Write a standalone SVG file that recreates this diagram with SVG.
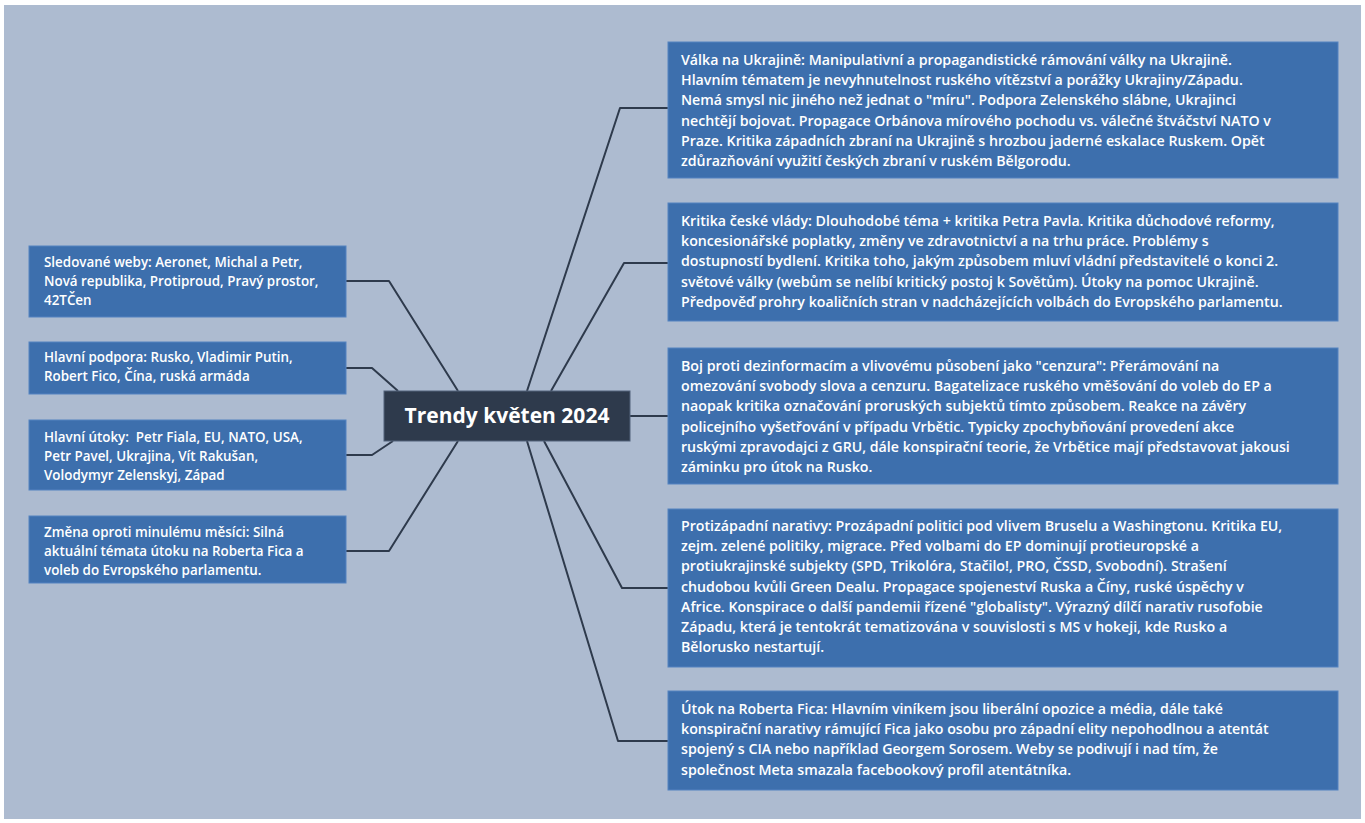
<svg xmlns="http://www.w3.org/2000/svg" width="1365" height="823" viewBox="0 0 1365 823">
<style>
.bg{fill:#adbbd0}
.box{fill:#3d6fad;stroke:#5583c0;stroke-width:1}
.t{font-family:"Open Sans","Noto Sans",sans-serif;font-size:14.2px;font-weight:600;fill:#ffffff}
.lt{font-family:"Open Sans","Noto Sans",sans-serif;font-size:13.4px;font-weight:600;fill:#ffffff}
.center{fill:#2e3a4c;stroke:#52627a;stroke-width:1}
.ct{font-family:"Open Sans","Noto Sans",sans-serif;font-size:21px;font-weight:700;fill:#ffffff}
.c{fill:none;stroke:#2e3a4c;stroke-width:2;stroke-linejoin:round}
</style>
<rect x="0" y="0" width="1365" height="823" fill="#ffffff"/>
<rect class="bg" x="4" y="5" width="1357" height="814"/>
<g id="connectors">
<polyline class="c" points="527,391 620,108 668,108"/>
<polyline class="c" points="551,391 624,263 668,263"/>
<polyline class="c" points="630,416 668,416"/>
<polyline class="c" points="544,441 622,588 668,588"/>
<polyline class="c" points="527,441 618,741 668,741"/>
<polyline class="c" points="458,391 389,281 346,281"/>
<polyline class="c" points="398,391 372,368 346,368"/>
<polyline class="c" points="393,441 372,455 346,455"/>
<polyline class="c" points="458,441 389,551 346,551"/>
</g>
<g id="center">
<rect class="center" x="384" y="391" width="246" height="50"/>
<text class="ct" x="507" y="423" text-anchor="middle">Trendy květen 2024</text>
</g>
<g id="r1">
<rect class="box" x="668" y="42" width="670" height="136"/>
<text class="t"><tspan x="681" y="65">Válka na Ukrajině: Manipulativní a propagandistické rámování války na Ukrajině.</tspan><tspan x="681" y="85.2">Hlavním tématem je nevyhnutelnost ruského vítězství a porážky Ukrajiny/Západu.</tspan><tspan x="681" y="105.4">Nemá smysl nic jiného než jednat o "míru". Podpora Zelenského slábne, Ukrajinci</tspan><tspan x="681" y="125.6">nechtějí bojovat. Propagace Orbánova mírového pochodu vs. válečné štváčství NATO v</tspan><tspan x="681" y="145.8">Praze. Kritika západních zbraní na Ukrajině s hrozbou jaderné eskalace Ruskem. Opět</tspan><tspan x="681" y="166">zdůrazňování využití českých zbraní v ruském Bělgorodu.</tspan></text>
</g>
<g id="r2">
<rect class="box" x="668" y="203" width="670" height="118"/>
<text class="t"><tspan x="681" y="226">Kritika české vlády: Dlouhodobé téma + kritika Petra Pavla. Kritika důchodové reformy,</tspan><tspan x="681" y="246.2">koncesionářské poplatky, změny ve zdravotnictví a na trhu práce. Problémy s</tspan><tspan x="681" y="266.4">dostupností bydlení. Kritika toho, jakým způsobem mluví vládní představitelé o konci 2.</tspan><tspan x="681" y="286.6">světové války (webům se nelíbí kritický postoj k Sovětům). Útoky na pomoc Ukrajině.</tspan><tspan x="681" y="306.8">Předpověď prohry koaličních stran v nadcházejících volbách do Evropského parlamentu.</tspan></text>
</g>
<g id="r3">
<rect class="box" x="668" y="348" width="670" height="136"/>
<text class="t"><tspan x="681" y="371">Boj proti dezinformacím a vlivovému působení jako "cenzura": Přerámování na</tspan><tspan x="681" y="391.2">omezování svobody slova a cenzuru. Bagatelizace ruského vměšování do voleb do EP a</tspan><tspan x="681" y="411.4">naopak kritika označování proruských subjektů tímto způsobem. Reakce na závěry</tspan><tspan x="681" y="431.6">policejního vyšetřování v případu Vrbětic. Typicky zpochybňování provedení akce</tspan><tspan x="681" y="451.8">ruskými zpravodajci z GRU, dále konspirační teorie, že Vrbětice mají představovat jakousi</tspan><tspan x="681" y="472">záminku pro útok na Rusko.</tspan></text>
</g>
<g id="r4">
<rect class="box" x="668" y="509" width="670" height="158"/>
<text class="t"><tspan x="681" y="531">Protizápadní narativy: Prozápadní politici pod vlivem Bruselu a Washingtonu. Kritika EU,</tspan><tspan x="681" y="551.2">zejm. zelené politiky, migrace. Před volbami do EP dominují protieuropské a</tspan><tspan x="681" y="571.4">protiukrajinské subjekty (SPD, Trikolóra, Stačilo!, PRO, ČSSD, Svobodní). Strašení</tspan><tspan x="681" y="591.6">chudobou kvůli Green Dealu. Propagace spojeneství Ruska a Číny, ruské úspěchy v</tspan><tspan x="681" y="611.8">Africe. Konspirace o další pandemii řízené "globalisty". Výrazný dílčí narativ rusofobie</tspan><tspan x="681" y="632">Západu, která je tentokrát tematizována v souvislosti s MS v hokeji, kde Rusko a</tspan><tspan x="681" y="652.2">Bělorusko nestartují.</tspan></text>
</g>
<g id="r5">
<rect class="box" x="668" y="691" width="670" height="99"/>
<text class="t"><tspan x="681" y="714">Útok na Roberta Fica: Hlavním viníkem jsou liberální opozice a média, dále také</tspan><tspan x="681" y="734.2">konspirační narativy rámující Fica jako osobu pro západní elity nepohodlnou a atentát</tspan><tspan x="681" y="754.4">spojený s CIA nebo například Georgem Sorosem. Weby se podivují i nad tím, že</tspan><tspan x="681" y="774.6">společnost Meta smazala facebookový profil atentátníka.</tspan></text>
</g>
<g id="l1">
<rect class="box" x="29" y="246" width="317" height="71"/>
<text class="lt"><tspan x="44" y="267">Sledované weby: Aeronet, Michal a Petr,</tspan><tspan x="44" y="286">Nová republika, Protiproud, Pravý prostor,</tspan><tspan x="44" y="305">42TČen</tspan></text>
</g>
<g id="l2">
<rect class="box" x="29" y="342" width="317" height="52"/>
<text class="lt"><tspan x="44" y="362">Hlavní podpora: Rusko, Vladimir Putin,</tspan><tspan x="44" y="381">Robert Fico, Čína, ruská armáda</tspan></text>
</g>
<g id="l3">
<rect class="box" x="29" y="420" width="317" height="70"/>
<text class="lt" xml:space="preserve"><tspan x="44" y="442">Hlavní útoky:  Petr Fiala, EU, NATO, USA,</tspan><tspan x="44" y="461">Petr Pavel, Ukrajina, Vít Rakušan,</tspan><tspan x="44" y="480">Volodymyr Zelenskyj, Západ</tspan></text>
</g>
<g id="l4">
<rect class="box" x="29" y="516" width="317" height="67"/>
<text class="lt"><tspan x="44" y="537">Změna oproti minulému měsíci: Silná</tspan><tspan x="44" y="556">aktuální témata útoku na Roberta Fica a</tspan><tspan x="44" y="575">voleb do Evropského parlamentu.</tspan></text>
</g>
</svg>
